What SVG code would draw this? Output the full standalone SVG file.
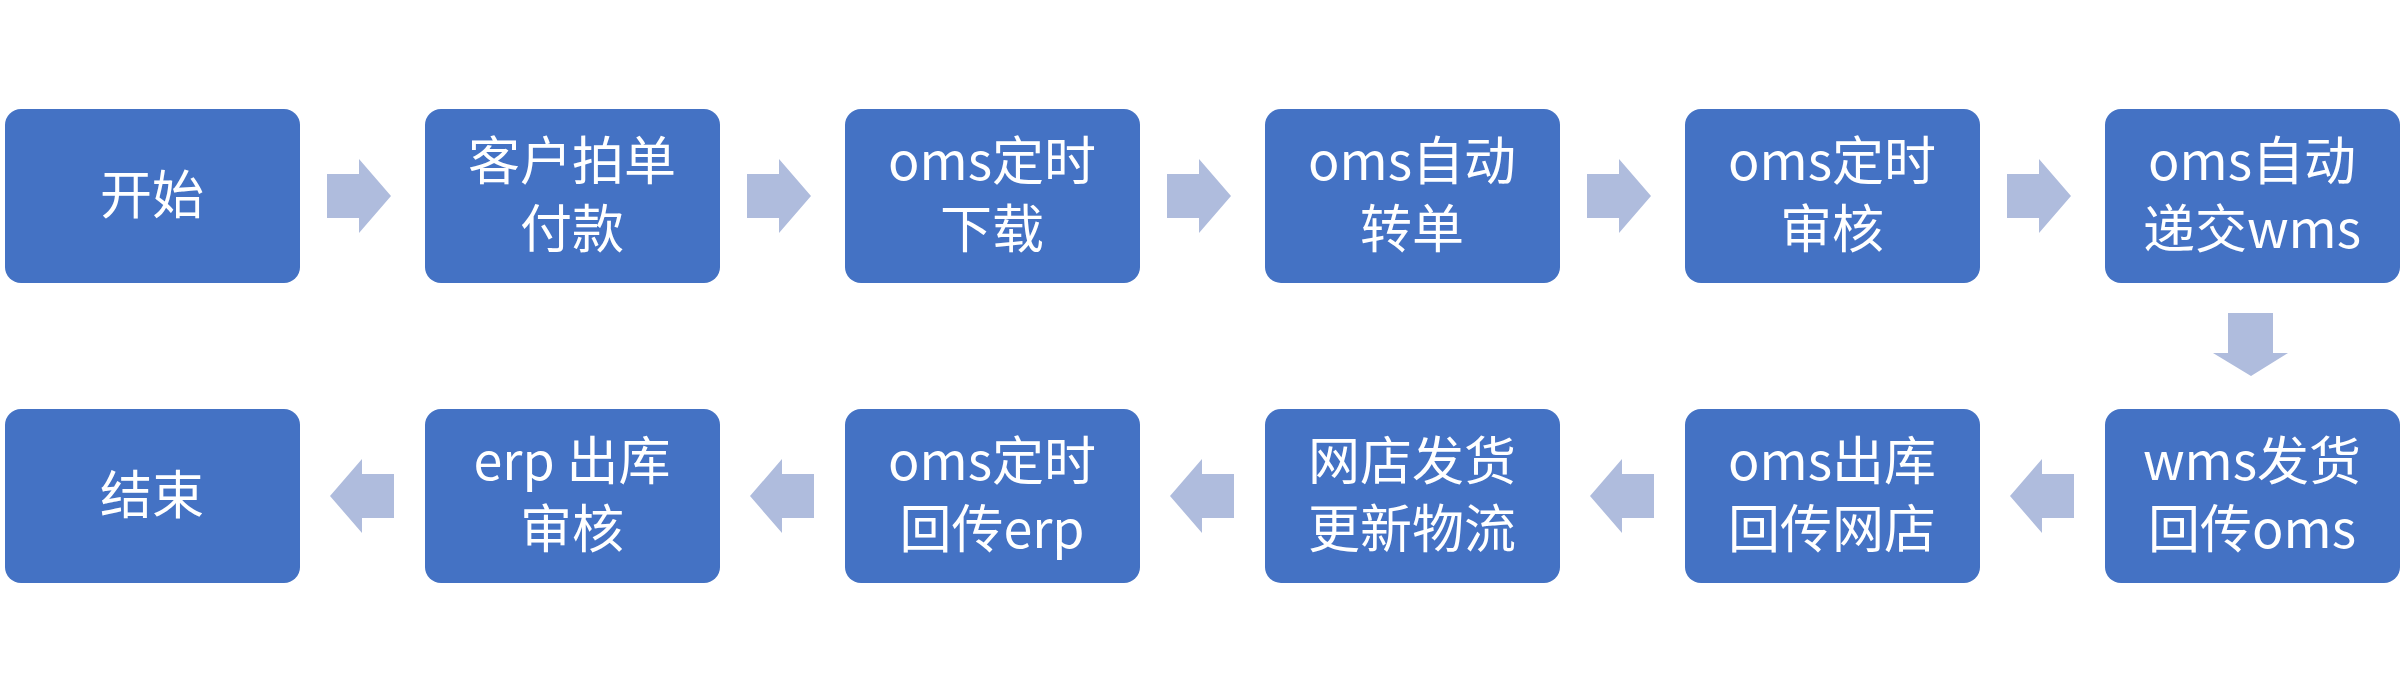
<svg xmlns="http://www.w3.org/2000/svg" width="2403" height="693" viewBox="0 0 2403 693">
<style>
.b{fill:#4472C4}
.a{fill:#AFBCDD}
text{fill:#fff;font-family:"Noto Sans CJK SC","Noto Sans",sans-serif;font-size:52px;text-anchor:middle}
</style>
<defs>
<path id="ra" d="M0,-22 H32 V-37 L64,0 L32,37 V22 H0 Z"/>
<path id="la" d="M0,-22 H-32 V-37 L-64,0 L-32,37 V22 H0 Z"/>
</defs>
<rect width="2403" height="693" fill="#fff"/>
<g id="connectors">
<use href="#ra" class="a" x="327" y="196"/>
<use href="#ra" class="a" x="747" y="196"/>
<use href="#ra" class="a" x="1167" y="196"/>
<use href="#ra" class="a" x="1587" y="196"/>
<use href="#ra" class="a" x="2007" y="196"/>
<path class="a" d="M2228,313 H2273 V353 H2288 L2251,376 L2213,353 H2228 Z"/>
<use href="#la" class="a" x="2074" y="496"/>
<use href="#la" class="a" x="1654" y="496"/>
<use href="#la" class="a" x="1234" y="496"/>
<use href="#la" class="a" x="814" y="496"/>
<use href="#la" class="a" x="394" y="496"/>
</g>
<g id="n1"><rect class="b" x="5" y="109" width="295" height="174" rx="16"/><text x="152" y="214">开始</text></g>
<g id="n2"><rect class="b" x="425" y="109" width="295" height="174" rx="16"/><text x="572" y="180">客户拍单</text><text x="572" y="248">付款</text></g>
<g id="n3"><rect class="b" x="845" y="109" width="295" height="174" rx="16"/><text x="992" y="180">oms定时</text><text x="992" y="248">下载</text></g>
<g id="n4"><rect class="b" x="1265" y="109" width="295" height="174" rx="16"/><text x="1412" y="180">oms自动</text><text x="1412" y="248">转单</text></g>
<g id="n5"><rect class="b" x="1685" y="109" width="295" height="174" rx="16"/><text x="1832" y="180">oms定时</text><text x="1832" y="248">审核</text></g>
<g id="n6"><rect class="b" x="2105" y="109" width="295" height="174" rx="16"/><text x="2252" y="180">oms自动</text><text x="2252" y="248">递交wms</text></g>
<g id="n7"><rect class="b" x="2105" y="409" width="295" height="174" rx="16"/><text x="2252" y="480">wms发货</text><text x="2252" y="548">回传oms</text></g>
<g id="n8"><rect class="b" x="1685" y="409" width="295" height="174" rx="16"/><text x="1832" y="480">oms出库</text><text x="1832" y="548">回传网店</text></g>
<g id="n9"><rect class="b" x="1265" y="409" width="295" height="174" rx="16"/><text x="1412" y="480">网店发货</text><text x="1412" y="548">更新物流</text></g>
<g id="n10"><rect class="b" x="845" y="409" width="295" height="174" rx="16"/><text x="992" y="480">oms定时</text><text x="992" y="548">回传erp</text></g>
<g id="n11"><rect class="b" x="425" y="409" width="295" height="174" rx="16"/><text x="572" y="480">erp 出库</text><text x="572" y="548">审核</text></g>
<g id="n12"><rect class="b" x="5" y="409" width="295" height="174" rx="16"/><text x="152" y="514">结束</text></g>
</svg>
